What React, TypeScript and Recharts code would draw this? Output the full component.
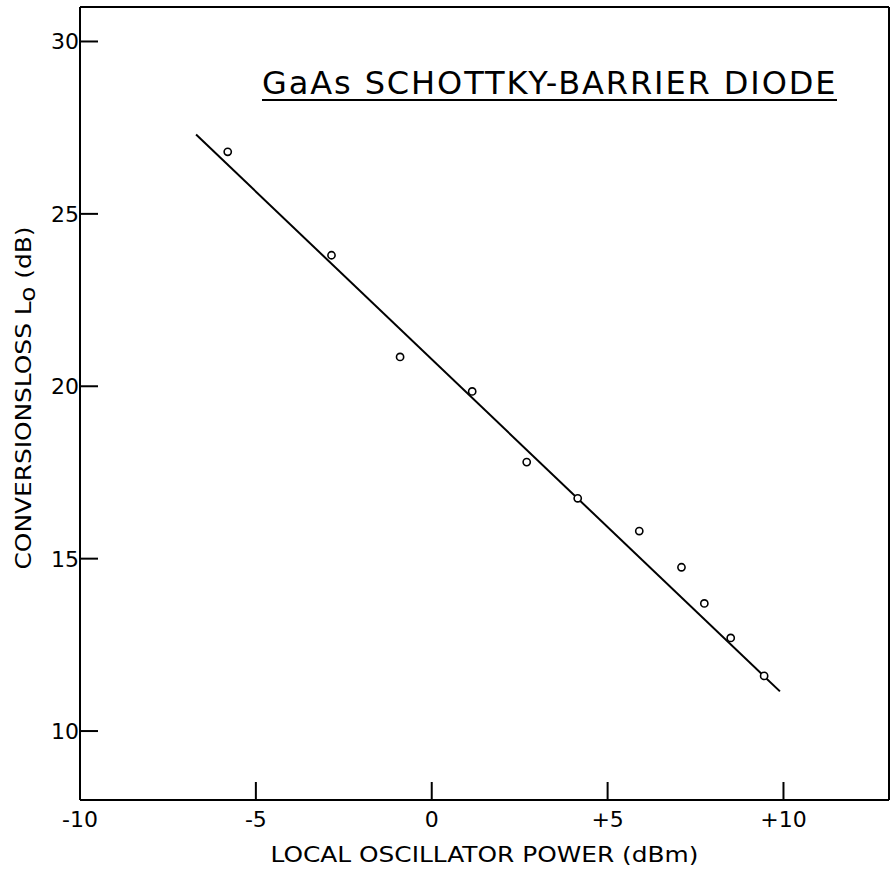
import { ScatterChart, Scatter, XAxis, YAxis, ReferenceLine } from "recharts";

// measured points: LO power (dBm) vs conversion loss (dB)
const loPower = [-5.8, -2.85, -0.9, 1.15, 2.7, 4.15, 5.9, 7.1, 7.75, 8.5, 9.45];
const convLoss = [26.8, 23.8, 20.85, 19.85, 17.8, 16.75, 15.8, 14.75, 13.7, 12.7, 11.6];

// hand-drawn fit line end points
const fitPower = [-6.7, 9.9];
const fitLoss = [27.3, 11.15];

const xTicks = [-10, -5, 0, 5, 10];
const yTicks = [10, 15, 20, 25, 30];

const X_DOMAIN = [-10, 13];
const Y_DOMAIN = [8, 31];

const measured = loPower.map((p, i) => ({ p, loss: convLoss[i] }));
const fit = fitPower.map((p, i) => ({ p, loss: fitLoss[i] }));
// anchor points for the inward tick marks, sitting on the axes
const yTickMarks = yTicks.map((t) => ({ p: X_DOMAIN[0], loss: t }));
const xTickMarks = xTicks.slice(1).map((t) => ({ p: t, loss: Y_DOMAIN[0] }));

const FONT = "DejaVu Sans";
const TICK_MARGIN = 6;
const TICK_LEN = 18;

const fmtX = (v: number) => (v > 0 ? `+${v}` : `${v}`);

function YTick(props: any) {
  const { x, y, payload } = props;
  return (
    <text x={x + 5} y={y} dy="0.36em" textAnchor="end" fontFamily={FONT} fontSize={22} fill="#000">
      {payload.value}
    </text>
  );
}

function XTick(props: any) {
  const { x, y, payload } = props;
  return (
    <text x={x} y={y + 21} textAnchor="middle" fontFamily={FONT} fontSize={22} fill="#000">
      {fmtX(payload.value)}
    </text>
  );
}

const Dot = (props: any) => (
  <circle cx={props.cx} cy={props.cy} r={3.6} fill="#fff" stroke="#000" strokeWidth={1.6} />
);
const YMark = (props: any) => (
  <path d={`M${props.cx},${props.cy}h${TICK_LEN}`} stroke="#000" strokeWidth={2} />
);
const XMark = (props: any) => (
  <path d={`M${props.cx},${props.cy}v${-TICK_LEN}`} stroke="#000" strokeWidth={2} />
);

export default function App() {
  return (
    <div style={{ position: "absolute", left: 0, top: 0, width: 891, height: 870 }}>
      <ScatterChart width={891} height={870} margin={{ top: 7, right: 2, left: 0, bottom: 0 }}>
        <XAxis
          type="number"
          dataKey="p"
          domain={X_DOMAIN}
          ticks={xTicks}
          allowDataOverflow
          height={70}
          tickSize={0}
          tickLine={false}
          tickMargin={TICK_MARGIN}
          tick={<XTick />}
          axisLine={{ stroke: "#000", strokeWidth: 2 }}
          label={({ viewBox }: any) => (
            <text
              x={viewBox.x + viewBox.width / 2}
              y={862}
              textAnchor="middle"
              fontFamily={FONT}
              fontSize={22}
              textLength={428}
              lengthAdjust="spacingAndGlyphs"
              fill="#000"
            >
              LOCAL OSCILLATOR POWER (dBm)
            </text>
          )}
        />
        <YAxis
          type="number"
          dataKey="loss"
          domain={Y_DOMAIN}
          ticks={yTicks}
          allowDataOverflow
          width={80}
          tickSize={0}
          tickLine={false}
          tickMargin={TICK_MARGIN}
          tick={<YTick />}
          axisLine={{ stroke: "#000", strokeWidth: 2 }}
          label={() => (
            <text
              transform="translate(31, 398) rotate(-90)"
              textAnchor="middle"
              fontFamily={FONT}
              fontSize={21}
              textLength={343}
              lengthAdjust="spacingAndGlyphs"
              fill="#000"
            >
              CONVERSIONSLOSS L<tspan dy={4}>o</tspan>
              <tspan dy={-4}> (dB)</tspan>
            </text>
          )}
        />
        {/* frame: top and right edges */}
        <ReferenceLine y={Y_DOMAIN[1]} stroke="#000" strokeWidth={2} />
        <ReferenceLine x={X_DOMAIN[1]} stroke="#000" strokeWidth={2} />
        {/* inward tick marks */}
        <Scatter data={yTickMarks} shape={<YMark />} isAnimationActive={false} />
        <Scatter data={xTickMarks} shape={<XMark />} isAnimationActive={false} />
        <Scatter
          data={fit}
          line={{ stroke: "#000", strokeWidth: 2 }}
          shape={() => <g />}
          isAnimationActive={false}
        />
        <Scatter data={measured} shape={<Dot />} isAnimationActive={false} />
      </ScatterChart>
      <div
        style={{
          position: "absolute",
          left: 262,
          top: 67,
          height: 32,
          lineHeight: "32px",
          fontFamily: FONT,
          fontSize: 32,
          letterSpacing: "1.9px",
          whiteSpace: "nowrap",
          borderBottom: "2px solid #000",
          color: "#000",
        }}
      >
        GaAs SCHOTTKY-BARRIER DIODE
      </div>
    </div>
  );
}
